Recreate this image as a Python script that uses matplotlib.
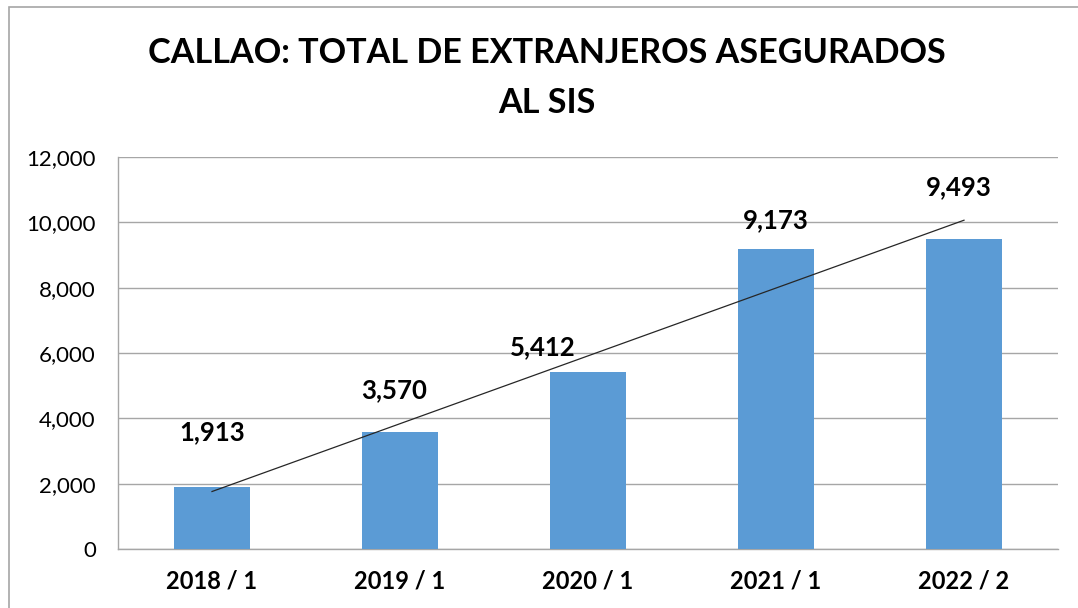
import numpy as np
import matplotlib.pyplot as plt
from matplotlib.patches import Rectangle

plt.rcParams['font.family'] = ['Lato', 'DejaVu Sans']

categories = ['2018 / 1', '2019 / 1', '2020 / 1', '2021 / 1', '2022 / 2']
values = [1913, 3570, 5412, 9173, 9493]

# where the data labels sit (x in category units, y in data units)
label_x = [0.0, 0.97, 1.76, 3.0, 3.97]
label_y = [3580, 4870, 6180, 10070, 11080]

fig = plt.figure(figsize=(10.78, 6.08), dpi=100)
fig.patches.append(Rectangle((9 / 1078, -0.1), 1.2, 1 - 7 / 608 + 0.1,
                             transform=fig.transFigure, fill=False,
                             edgecolor='#A6A6A6', lw=1.2))

ax = fig.add_axes([118 / 1078, 59 / 608, 940 / 1078, 392 / 608])
x = np.arange(len(values))
ax.bar(x, values, width=0.4, color='#5B9BD5', zorder=3)

# linear trendline
m, b = np.polyfit(x, values, 1)
ax.plot(x, m * x + b, color='#262626', lw=0.9, zorder=4)

for xi, yi, v in zip(label_x, label_y, values):
    ax.text(xi, yi, f'{v:,}', ha='center', va='center', fontsize=18.5,
            fontweight='bold', color='#000000', zorder=5)

ax.set_xlim(-0.5, len(values) - 0.5)
ax.set_ylim(0, 12000)
ax.set_yticks(range(0, 12001, 2000))
ax.set_yticklabels([f'{t:,}' for t in range(0, 12001, 2000)], fontsize=16)
ax.set_xticks(x)
ax.set_xticklabels(categories, fontsize=17, fontweight='bold')
ax.tick_params(axis='both', length=0, pad=15)
ax.tick_params(axis='y', pad=16)
ax.grid(axis='y', color='#A6A6A6', lw=1, zorder=0)
for side in ['top', 'right']:
    ax.spines[side].set_visible(False)
for side in ['left', 'bottom']:
    ax.spines[side].set_color('#A6A6A6')
    ax.spines[side].set_linewidth(1)

fig.text(547 / 1078, 1 - 53 / 608, 'CALLAO: TOTAL DE EXTRANJEROS ASEGURADOS',
         ha='center', va='center', fontsize=24.6, fontweight='bold')
fig.text(547 / 1078, 1 - 103 / 608, 'AL SIS',
         ha='center', va='center', fontsize=24.6, fontweight='bold')

fig.savefig('out.png', dpi=100)
